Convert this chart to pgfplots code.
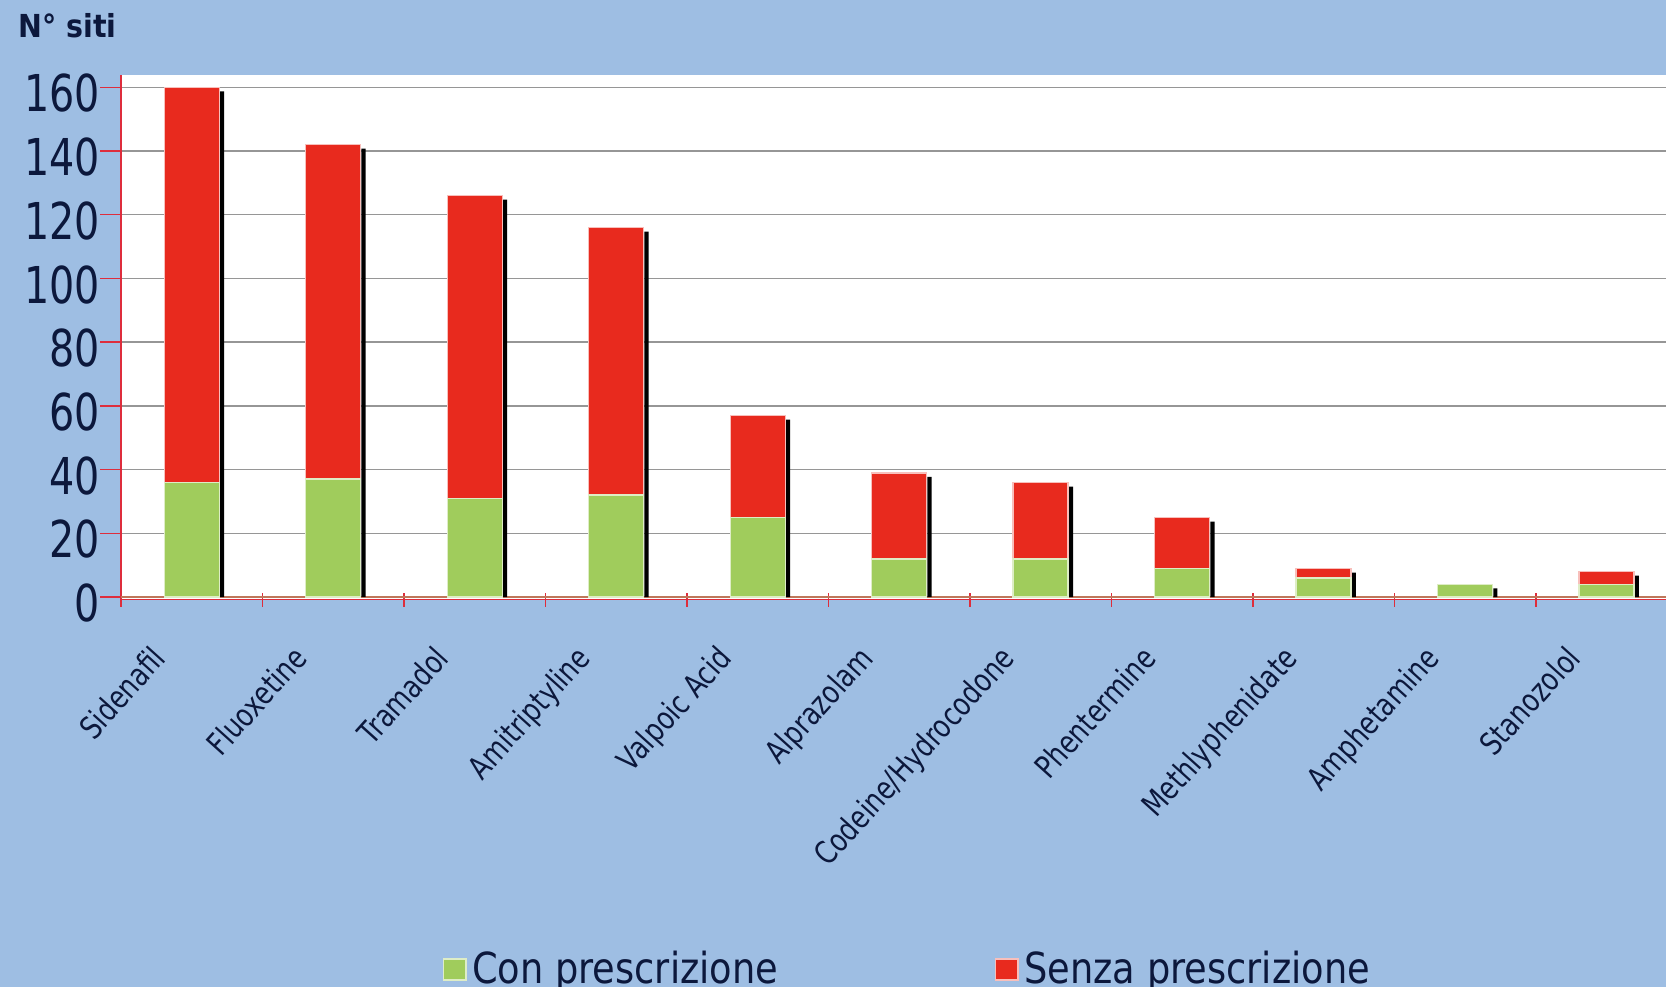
\documentclass[border=0pt]{standalone}
\usepackage{fontspec}
\setmainfont{DejaVu Sans}
\newfontfamily\tickfont{DejaVu Sans}[FakeStretch=0.78]
\newfontfamily\labfont{DejaVu Sans}[FakeStretch=0.80]
\newfontfamily\legfont{DejaVu Sans}[FakeStretch=0.86]
\newfontfamily\titfont{DejaVu Sans}[FakeStretch=0.90]
\usepackage{pgfplots}
\usepackage{pgfplotstable}
\pgfplotsset{compat=1.18}

\definecolor{bgblue}{RGB}{158,190,227}
\definecolor{barred}{RGB}{232,42,30}
\definecolor{bargreen}{RGB}{160,204,92}
\definecolor{ink}{RGB}{12,24,60}
\definecolor{axred}{RGB}{222,45,60}
\definecolor{gridgray}{RGB}{150,150,150}
\definecolor{basebrown}{RGB}{190,120,90}

% number of sites per substance: with / without prescription
\pgfplotstableread{
idx con senza
0   36  124
1   37  105
2   31  95
3   32  84
4   25  32
5   12  27
6   12  24
7   9   16
8   6   3
9   4   0
10  4   4
}\sitidata

\pgfplotsset{
  frame/.style={
    scale only axis,
    width=556.4pt, height=188.9pt,
    xmin=-0.5, xmax=10.42,
    ymin=-0.8, ymax=163.8,
    at={(43.6pt,139.5pt)}, anchor=south west,
  }
}

\begin{document}
\begin{tikzpicture}
\useasboundingbox (0,0) rectangle (600pt,355.46pt);
\fill[bgblue] (0,0) rectangle (600pt,355.46pt);

\node[anchor=base west, inner sep=0pt, text=ink,
      font=\titfont\bfseries\fontsize{11.4}{12}\selectfont]
  at (6.5pt,341.8pt) {N° siti};

% frame, grid, ticks, labels and bar shadows
\begin{axis}[frame,
  axis background/.style={fill=white},
  axis lines*=left,
  axis line style={axred, line width=0.5pt},
  ytick={20,40,...,160},
  extra y ticks={0},
  extra y tick style={grid style={basebrown, line width=0.6pt}},
  ymajorgrids,
  grid style={gridgray, line width=0.5pt},
  tick align=outside,
  major tick length=7.5pt,
  ytick style={axred, line width=0.5pt},
  /pgf/number format/assume math mode=true,
  yticklabel style={font=\tickfont\fontsize{18.3}{18.3}\selectfont,
    text=ink, anchor=east, inner sep=0pt, yshift=-2.2pt},
  xtick={-0.30,0.70,1.70,2.70,3.70,4.70,5.70,6.70,7.70,8.70,9.70},
  xticklabels={Sidenafil, Fluoxetine, Tramadol, Amitriptyline, Valpoic Acid,
    Alprazolam, Codeine/Hydrocodone, Phentermine, Methlyphenidate,
    Amphetamine, Stanozolol},
  xtick style={draw=none},
  xticklabel style={font=\labfont\fontsize{11.4}{11.4}\selectfont, text=ink,
    rotate=48, anchor=north east, inner sep=0pt},
  xticklabel shift=8.1pt,
  extra x ticks={-0.5,0.5,1.5,2.5,3.5,4.5,5.5,6.5,7.5,8.5,9.5},
  extra x tick labels={},
  extra x tick style={tick align=center, major tick length=5pt,
    xtick style={draw=axred, line width=0.5pt}},
]
\addplot[ybar, bar width=1.5pt, bar shift=10.9pt, fill=black, draw=none]
  table[x=idx, y expr=\thisrow{con}+\thisrow{senza}-1.3]{\sitidata};
\end{axis}

% stacked bars and legend
\begin{axis}[frame,
  hide axis,
  ybar stacked,
  bar width=19.8pt,
  legend columns=2,
  legend cell align=left,
  legend image code/.code={\draw[#1, line width=0.6pt] (0pt,-3.8pt) rectangle (8pt,3.8pt);},
  legend style={at={(axis description cs:0.2078,-0.705)}, anchor=west,
    draw=none, fill=none, inner sep=0pt, text=ink,
    font=\legfont\fontsize{15.4}{15.4}\selectfont,
    /tikz/every even column/.append style={column sep=76pt}},
]
\addplot[fill=bargreen, draw=white!65!bargreen, line width=0.5pt]
  table[x=idx, y=con]{\sitidata};
\addplot[fill=barred, draw=white!70!barred, line width=0.5pt]
  table[x=idx, y=senza]{\sitidata};
\legend{Con prescrizione, Senza prescrizione}
\end{axis}
\end{tikzpicture}
\end{document}
